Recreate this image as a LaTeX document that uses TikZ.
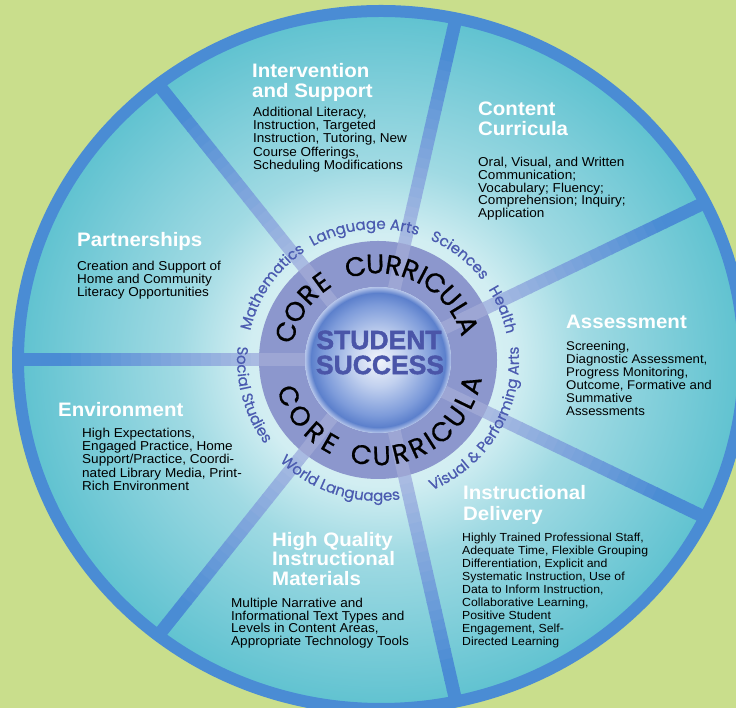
\documentclass[tikz,border=0pt]{standalone}
\usepackage{fontspec}
\setmainfont{Liberation Sans}[FakeStretch=1.05]
\newfontfamily\pop{Poppins}[FakeBold=0.6]
\newfontfamily\popsub{Poppins}[FakeBold=0.5]
\newfontfamily\heavy{Liberation Sans Bold}[FakeBold=1.5]
\usetikzlibrary{decorations.text}
\definecolor{bg}{HTML}{C9DE8C}
\definecolor{band}{HTML}{4A8CD4}
\definecolor{spoke}{HTML}{4A8CD4}
\definecolor{spokepale}{HTML}{A9BBE2}
\definecolor{diskA}{HTML}{E6F6F8}
\definecolor{diskA2}{HTML}{D2EEF2}
\definecolor{diskB}{HTML}{A0DAE3}
\definecolor{diskC}{HTML}{5FC2D0}
\definecolor{ringc}{HTML}{8C97CD}
\definecolor{sphA}{HTML}{F2F5FB}
\definecolor{sphB}{HTML}{C2D1EF}
\definecolor{sphC}{HTML}{7D9BDA}
\definecolor{sphD}{HTML}{5C80CC}
\definecolor{sphE}{HTML}{B4C4EA}
\definecolor{subjc}{HTML}{4B5BB0}
\definecolor{succ}{HTML}{4A55A8}
\pgfdeclareradialshading{diskshade}{\pgfpoint{0bp}{0bp}}{color(0bp)=(diskA); color(9bp)=(diskA2); color(14bp)=(diskB); color(25bp)=(diskC); color(50bp)=(diskC)}
\pgfdeclareradialshading{sphereshade}{\pgfpoint{0bp}{0bp}}{color(0bp)=(sphA); color(9bp)=(sphB); color(19bp)=(sphC); color(23bp)=(sphD); color(25bp)=(sphE); color(50bp)=(sphE)}
\newcommand\subjfont{\popsub\fontsize{15}{15}\selectfont}
\newcommand\bodyfont[2]{\fontsize{#1}{#2}\selectfont\lineskiplimit=-30pt\relax}
\tikzset{
  head/.style={anchor=north west, inner sep=0pt, text=white, align=left, font=\bfseries\bodyfont{19.5}{20}},
  body/.style={anchor=north west, inner sep=0pt, align=left, font=\bodyfont{12.9}{13}},
  coreletter/.style={inner sep=0pt, font=\pop\fontsize{27}{27}\selectfont},
  subjpath/.style={decorate, decoration={text along path, text align=center, text color=subjc, text={|\subjfont|#1}}}
}
\begin{document}
\begin{tikzpicture}[x=1pt,y=1pt]
\useasboundingbox (0,0) rectangle (736,708);
\fill[bg] (0,0) rectangle (736,708);
\coordinate (Co) at (381,348);
\coordinate (Ci) at (378,348);
% disk
\shade[shading=diskshade] (Co) ellipse[x radius=363, y radius=349];
% spokes
\begin{scope}
\clip (Co) ellipse[x radius=363, y radius=349];
\foreach \a in {180,128.5714,77.1429,25.7143,-25.7143,-77.1429,-128.5714}{
  \foreach \i in {0,...,24}{
    \pgfmathsetmacro{\ra}{117+10*\i}
    \pgfmathsetmacro{\rb}{\ra+10.8}
    \pgfmathsetmacro{\p}{min(100,max(0,(\ra-120)/1.9))}
    \draw[line width=13pt, color=spoke!\p!spokepale] ([shift={(\a:\ra)}]Ci) -- ([shift={(\a:\rb)}]Ci);
  }
}
\end{scope}
% outer band
\draw[band, line width=12pt] (Co) ellipse[x radius=363, y radius=349];
% core ring
\fill[ringc, even odd rule] (Ci) circle[radius=119] (Ci) circle[radius=73];
\foreach \a in {180,128.5714,77.1429,25.7143,-25.7143,-77.1429,-128.5714}{
  \draw[white, opacity=0.15, line width=13pt] ([shift={(\a:73)}]Ci) -- ([shift={(\a:119)}]Ci);
}
% sphere
\shade[shading=sphereshade] (Ci) circle[radius=73];
\node[inner sep=0pt, text=succ, font=\heavy\fontsize{26.5}{26.5}\selectfont] (stu) at (379,368) {STUDENT};
\node[inner sep=0pt, text=succ, font=\heavy\fontsize{26.5}{26.5}\selectfont] (suc) at (380,343) {SUCCESS};
% CORE CURRICULA top
\foreach \ch/\ang [count=\k] in {C/163, O/149.6, R/136.9, E/126, C/103.6, U/91.7, R/80.6, R/70.1, I/62.3, C/53.6, U/41.7, L/31.5, A/21.2}
  \node[coreletter, rotate=\ang-90] (ct\k) at ([shift={(\ang:96)}]Ci) {\ch};
% CORE CURRICULA bottom
\foreach \ch/\ang [count=\k] in {C/202, O/215.8, R/228.8, E/240, C/260, U/272.2, R/283.6, R/294.4, I/302.6, C/311.5, U/323.7, L/334.2, A/344.9}
  \node[coreletter, rotate=\ang+90] (cb\k) at ([shift={(\ang:96)}]Ci) {\ch};
% subjects (clockwise, tops outward)
\path[subjpath={Mathematics}] ([shift={(195.5:131)}]Ci) arc[start angle=195.5, end angle=95.5, radius=131];
\path[subjpath={Language Arts}] ([shift={(146:131)}]Ci) arc[start angle=146, end angle=46, radius=131];
\path[subjpath={Sciences}] ([shift={(102:131)}]Ci) arc[start angle=102, end angle=2, radius=131];
\path[subjpath={Health}] ([shift={(72:131)}]Ci) arc[start angle=72, end angle=-28, radius=131];
% subjects (counter-clockwise, tops inward)
\path[subjpath={Visual {\&} Performing Arts}] ([shift={(-101:141)}]Ci) arc[start angle=-101, end angle=39, radius=141];
\path[subjpath={World Languages}] ([shift={(202.5:141)}]Ci) arc[start angle=202.5, end angle=302.5, radius=141];
\path[subjpath={Social Studies}] ([shift={(145.5:141)}]Ci) arc[start angle=145.5, end angle=245.5, radius=141];
% sector texts
\node[head] (h1) at (252,645) {Intervention\\and Support};
\node[body, font=\bodyfont{12.9}{13.2}] (b1) at (253,601) {Additional Literacy,\\Instruction, Targeted\\Instruction, Tutoring, New\\Course Offerings,\\Scheduling Modifications};
\node[head] (h2) at (478,606) {Content\\Curricula};
\node[body, font=\bodyfont{12.9}{12.75}] (b2) at (478,551) {Oral, Visual, and Written\\Communication;\\Vocabulary; Fluency;\\Comprehension; Inquiry;\\Application};
\node[head] (h3) at (566,393) {Assessment};
\node[body, font=\bodyfont{12.6}{13}] (b3) at (566,367) {Screening,\\Diagnostic Assessment,\\Progress Monitoring,\\Outcome, Formative and\\Summative\\Assessments};
\node[head, font=\bfseries\bodyfont{19.5}{21}] (h4) at (463,223) {Instructional\\Delivery};
\node[body, font=\bodyfont{11.7}{13}] (b4) at (462,175) {Highly Trained Professional Staff,\\Adequate Time, Flexible Grouping\\Differentiation, Explicit and\\Systematic Instruction, Use of\\Data to Inform Instruction,\\Collaborative Learning,\\Positive Student\\Engagement, Self-\\Directed Learning};
\node[head, font=\bfseries\bodyfont{19.5}{19.5}] (h5) at (272,176) {High Quality\\Instructional\\Materials};
\node[body, font=\bodyfont{12.9}{12.7}] (b5) at (231,110) {Multiple Narrative and\\Informational Text Types and\\Levels in Content Areas,\\Appropriate Technology Tools};
\node[head] (h6) at (58,306) {Environment};
\node[body, font=\bodyfont{12.9}{13.2}] (b6) at (82,280) {High Expectations,\\Engaged Practice, Home\\Support/Practice, Coordi-\\nated Library Media, Print-\\Rich Environment};
\node[head] (h7) at (77,476) {Partnerships};
\node[body] (b7) at (77,447) {Creation and Support of\\Home and Community\\Literacy Opportunities};
\end{tikzpicture}
\end{document}
